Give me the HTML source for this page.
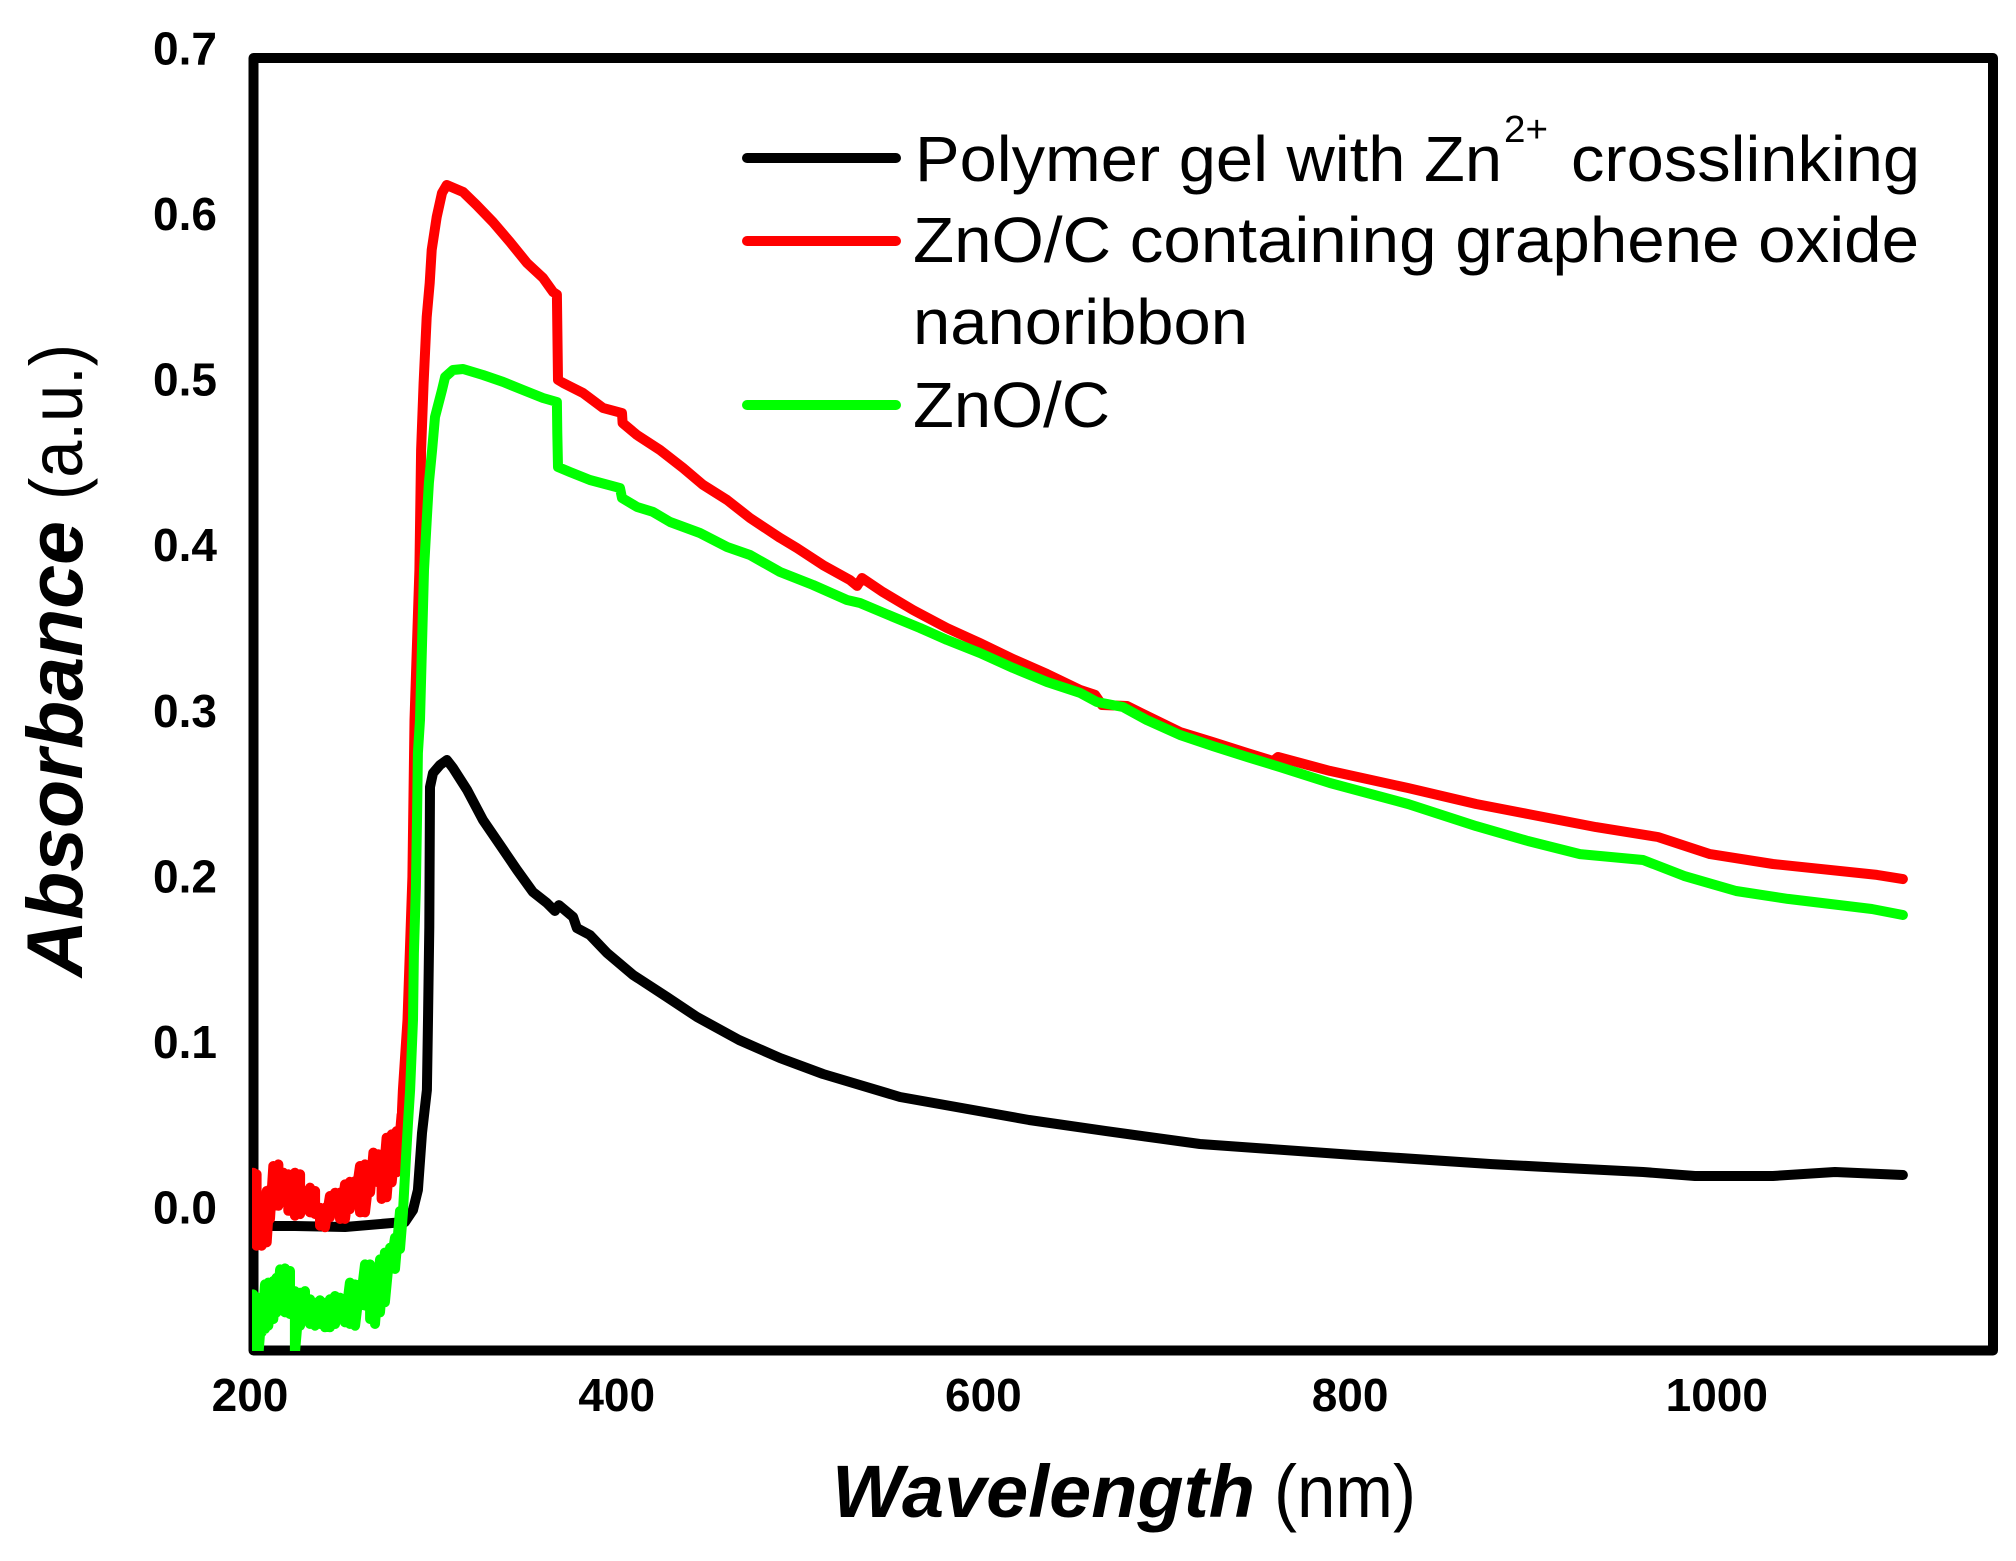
<!DOCTYPE html>
<html lang="en">
<head>
<meta charset="utf-8">
<title>Absorbance vs Wavelength</title>
<style>
html,body{margin:0;padding:0;background:#fff;}
svg{display:block;font-family:"Liberation Sans",Arial,sans-serif;}
</style>
</head>
<body>
<svg id="chart" xmlns="http://www.w3.org/2000/svg" width="2016" height="1561" viewBox="0 0 2016 1561">
  <rect x="0" y="0" width="2016" height="1561" fill="#fff"/>
  <defs>
    <clipPath id="plot-clip"><rect x="252" y="0" width="1740" height="1351"/></clipPath>
  </defs>
  <g id="series-layer" clip-path="url(#plot-clip)"></g>
  <rect x="253.5" y="58" width="1739.5" height="1292.5" fill="none" stroke="#000" stroke-width="10" stroke-linejoin="round"/>
  <g id="series-top" clip-path="url(#plot-clip)"></g>
  <g id="tick-layer" font-weight="bold" font-size="46" fill="#000"></g>

  <text x="832" y="1517" font-size="74" font-weight="bold" font-style="italic" textLength="423" lengthAdjust="spacingAndGlyphs">Wavelength</text>
  <text x="1274" y="1517" font-size="74" textLength="142" lengthAdjust="spacingAndGlyphs">(nm)</text>
  <text transform="translate(82,977) rotate(-90)" font-size="79" font-weight="bold" font-style="italic" textLength="456" lengthAdjust="spacingAndGlyphs">Absorbance</text>
  <text transform="translate(82,500) rotate(-90)" font-size="74" textLength="156" lengthAdjust="spacingAndGlyphs">(a.u.)</text>

  <g fill="#000">
    <line x1="747" y1="158" x2="896" y2="158" stroke="#000" stroke-width="10" stroke-linecap="round"/>
    <line x1="747" y1="241" x2="896" y2="241" stroke="#f00" stroke-width="10" stroke-linecap="round"/>
    <line x1="747" y1="405" x2="896" y2="405" stroke="#0f0" stroke-width="10" stroke-linecap="round"/>
    <text x="915" y="181" font-size="64" textLength="587" lengthAdjust="spacingAndGlyphs">Polymer gel with Zn</text>
    <text x="1504" y="142" font-size="38" textLength="44" lengthAdjust="spacingAndGlyphs">2+</text>
    <text x="1571" y="181" font-size="64" textLength="349" lengthAdjust="spacingAndGlyphs">crosslinking</text>
    <text x="913" y="262" font-size="64" textLength="1006" lengthAdjust="spacingAndGlyphs">ZnO/C containing graphene oxide</text>
    <text x="913" y="344" font-size="64" textLength="335" lengthAdjust="spacingAndGlyphs">nanoribbon</text>
    <text x="913" y="427" font-size="64" textLength="197" lengthAdjust="spacingAndGlyphs">ZnO/C</text>
  </g>
</svg>
<script>
const xTickLabels = [200, 400, 600, 800, 1000];
const yTickLabels = ["0.0", "0.1", "0.2", "0.3", "0.4", "0.5", "0.6", "0.7"];

const blackWavelength = [201,213.6,224.5,251.8,277.4,284.5,288.9,291.6,293.8,296.5,297.1,297.8,298.2,299.8,303.6,307.4,310.7,318.4,327.1,336.4,345.6,354.3,362,366.3,368.5,376.2,378.3,385.4,394.7,408.9,427.4,443.8,466.7,489.1,512.5,554.5,624.9,666.9,718.1,803.2,877.4,917.2,959.8,988.1,1030.6,1064.4,1101.5];
const blackAbsorbance = [-0.0105,-0.0105,-0.0105,-0.0111,-0.0087,-0.0081,-0.0009,0.0112,0.0456,0.0716,0.1139,0.17,0.2546,0.263,0.2679,0.2709,0.2661,0.2528,0.2346,0.2195,0.2045,0.1912,0.1845,0.1797,0.1833,0.1761,0.1694,0.1652,0.1544,0.1411,0.1278,0.1157,0.1018,0.0909,0.0813,0.0674,0.0535,0.0468,0.039,0.0323,0.0269,0.0245,0.0221,0.0197,0.0197,0.0221,0.0203];

const redNoiseWavelength = [201.8,203.6,206.4,209.1,210.9,212.7,215.5,218.2,220.9,224.5,227.3,230,232.7,235.5,238.2,240.9,243.6,246.4,249.1,251.8,254.5,257.3,260,262.7,265.5,267.3,270,271.8,274.5,277.3,280,282.7];
const redNoiseHigh = [0.0217,0.0207,0.0066,0.0106,0.0116,0.0257,0.0267,0.0217,0.0207,0.0217,0.0207,0.0106,0.0126,0.0106,0.0005,0.0005,0.0076,0.0096,0.0096,0.0146,0.0162,0.0166,0.0257,0.0267,0.0247,0.0338,0.0328,0.0277,0.0428,0.0448,0.0468,0.0569];
const redNoiseLow = [-0.0003,-0.0224,-0.0224,-0.0204,-0.0063,0.0017,0.0017,0.0058,-0.0013,-0.0043,-0.0033,0.0017,-0.0023,-0.0033,-0.0103,-0.0113,-0.0053,0.0017,-0.0063,-0.0063,-0.0003,0.0048,-0.0023,-0.0023,0.0098,0.0158,0.0158,0.0058,0.0068,0.0158,0.0219,0.036];
const redWavelength = [282.9,283.4,285.9,288.6,289.7,292.4,293.3,294.7,296.4,298,299.1,301.8,304.7,307.3,316.2,323.6,332.5,341.8,351.1,359.8,365.3,367.4,368,370.7,381.6,392.5,402.9,403.2,411.1,423.6,436.2,447.1,460.2,472.7,489.1,498.3,512.5,527.2,531.1,533.8,545.2,561.6,580.1,598.1,616.1,634.7,652.7,660.9,664.7,678.3,689.2,707.2,725.2,743.8,758,760.7,789,831.6,868.7,897,934.1,967.9,996.3,1030.6,1087.4,1101.5];
const redAbsorbance = [0.0595,0.0716,0.1139,0.2002,0.295,0.3856,0.4581,0.4985,0.5384,0.5589,0.5789,0.5988,0.6133,0.6181,0.6139,0.606,0.5958,0.5837,0.571,0.562,0.5535,0.552,0.5004,0.4986,0.4925,0.4835,0.4804,0.4744,0.4671,0.4581,0.4472,0.437,0.4279,0.417,0.405,0.3989,0.3886,0.3796,0.376,0.3808,0.3723,0.3615,0.3506,0.3415,0.3319,0.3228,0.3132,0.3102,0.3041,0.3035,0.2975,0.2878,0.2817,0.2751,0.2703,0.2727,0.2643,0.254,0.2443,0.2383,0.2304,0.2244,0.2141,0.2081,0.2015,0.199];

const greenNoiseWavelength = [201.8,204.5,206.4,208.2,210,212.7,214.5,216.4,219.1,221.8,224.5,227.3,230,232.7,235.5,238.2,240.9,243.6,246.4,249.1,251.8,254.5,257.3,260,262.7,265.5,268.2,270.9,273.6,276.4,279.1,281.8];
const greenNoiseHigh = [-0.0518,-0.0538,-0.0618,-0.0458,-0.0447,-0.0437,-0.0417,-0.0367,-0.0361,-0.0377,-0.0498,-0.0508,-0.0498,-0.0548,-0.0568,-0.0554,-0.0568,-0.0548,-0.0528,-0.0538,-0.0558,-0.0447,-0.0458,-0.0458,-0.0337,-0.0337,-0.0458,-0.0307,-0.0266,-0.0236,-0.0176,-0.0015];
const greenNoiseLow = [-0.0894,-0.0894,-0.0747,-0.0727,-0.0707,-0.0667,-0.0627,-0.0536,-0.0627,-0.0637,-0.0874,-0.0707,-0.0627,-0.0697,-0.0707,-0.0697,-0.0717,-0.0717,-0.0697,-0.0637,-0.0687,-0.0697,-0.0707,-0.0586,-0.0586,-0.0667,-0.0697,-0.0627,-0.0566,-0.0365,-0.0365,-0.0244];
const greenWavelength = [283.4,285.1,286.2,287.3,288.9,289.4,290.5,291.1,291.6,292.7,294.9,296.5,297.6,299.3,300.9,304.7,306.4,310.7,316.2,327.1,338,348.9,359.8,367.4,367.6,368,374.5,385.4,401.8,402.9,411.1,419.8,429.1,445.4,460.2,472.7,489.1,507.1,525.6,532.7,550.7,565.4,580.1,598.1,616.1,634.7,652.7,661.9,676.1,689.2,707.2,725.2,743.8,761.8,789,831.6,868.7,897,925.4,959.8,982.1,1010.5,1038.8,1084.6,1101.5];
const greenAbsorbance = [-0.0027,0.0312,0.0517,0.0716,0.1139,0.1543,0.1942,0.2346,0.2751,0.295,0.3856,0.4176,0.4382,0.4581,0.478,0.4943,0.5022,0.5064,0.507,0.5034,0.4992,0.4943,0.4895,0.4871,0.4683,0.4478,0.4448,0.44,0.4351,0.4291,0.4237,0.4207,0.4146,0.408,0.3995,0.3947,0.3844,0.3766,0.3675,0.3657,0.3573,0.3506,0.3434,0.3355,0.3265,0.318,0.3114,0.3059,0.3029,0.295,0.286,0.2793,0.2727,0.2666,0.257,0.2443,0.231,0.222,0.2141,0.2105,0.2009,0.1918,0.187,0.1809,0.1773];

const SVG_NS = "http://www.w3.org/2000/svg";

function xScale(nm) { return 250 + (nm - 200) * 1.8335; }
function yScale(a) { return 1208.6 - a * 1656; }

function buildPoints(noiseX, noiseHigh, noiseLow, curveX, curveY) {
  const pts = [];
  for (let i = 0; i < noiseX.length; i++) {
    pts.push(xScale(noiseX[i]).toFixed(1) + "," + yScale(noiseHigh[i]).toFixed(1));
    pts.push(xScale(noiseX[i]).toFixed(1) + "," + yScale(noiseLow[i]).toFixed(1));
  }
  for (let i = 0; i < curveX.length; i++) {
    pts.push(xScale(curveX[i]).toFixed(1) + "," + yScale(curveY[i]).toFixed(1));
  }
  return pts.join(" ");
}

const seriesLayer = document.getElementById("series-top");
const tickLayer = document.getElementById("tick-layer");

const blackLine = document.createElementNS(SVG_NS, "polyline");


blackLine.setAttribute("points", buildPoints([], [], [], blackWavelength, blackAbsorbance));
blackLine.setAttribute("fill", "none");
blackLine.setAttribute("stroke", "#000");
blackLine.setAttribute("stroke-width", "10");
blackLine.setAttribute("stroke-linejoin", "round");
blackLine.setAttribute("stroke-linecap", "round");
seriesLayer.appendChild(blackLine);

const redLine = document.createElementNS(SVG_NS, "polyline");


redLine.setAttribute("points", buildPoints(redNoiseWavelength, redNoiseHigh, redNoiseLow, redWavelength, redAbsorbance));
redLine.setAttribute("fill", "none");
redLine.setAttribute("stroke", "#f00");
redLine.setAttribute("stroke-width", "10");
redLine.setAttribute("stroke-linejoin", "round");
redLine.setAttribute("stroke-linecap", "round");
seriesLayer.appendChild(redLine);

const greenLine = document.createElementNS(SVG_NS, "polyline");


greenLine.setAttribute("points", buildPoints(greenNoiseWavelength, greenNoiseHigh, greenNoiseLow, greenWavelength, greenAbsorbance));
greenLine.setAttribute("fill", "none");
greenLine.setAttribute("stroke", "#0f0");
greenLine.setAttribute("stroke-width", "10");
greenLine.setAttribute("stroke-linejoin", "round");
greenLine.setAttribute("stroke-linecap", "round");
seriesLayer.appendChild(greenLine);

xTickLabels.forEach(function (label) {
  const t = document.createElementNS(SVG_NS, "text");
  
  
  t.setAttribute("x", xScale(label));
  t.setAttribute("y", 1411);
  t.setAttribute("text-anchor", "middle");
  t.textContent = label;
  tickLayer.appendChild(t);
});

yTickLabels.forEach(function (label) {
  const t = document.createElementNS(SVG_NS, "text");
  
  
  t.setAttribute("x", 217);
  t.setAttribute("y", yScale(parseFloat(label)) + 15);
  t.setAttribute("text-anchor", "end");
  t.textContent = label;
  tickLayer.appendChild(t);
});
</script>
</body>
</html>
